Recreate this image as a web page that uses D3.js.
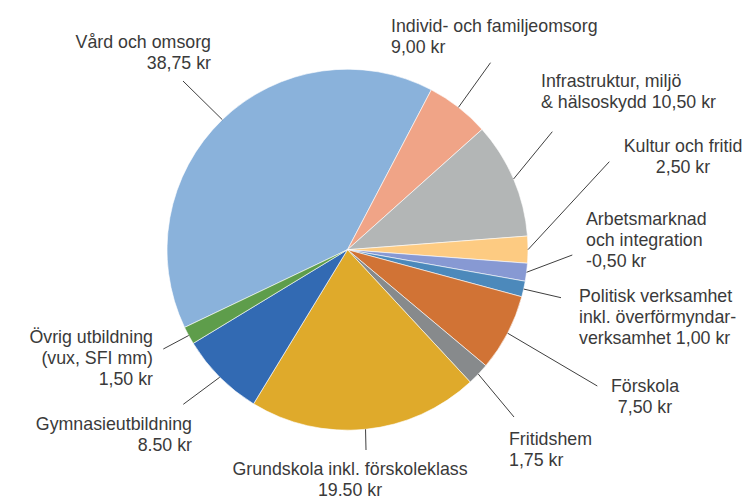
<!DOCTYPE html>
<html>
<head>
<meta charset="utf-8">
<script src="https://cdn.jsdelivr.net/npm/d3@7"></script>
<style>
  body { margin: 0; background: #fff; }
  svg text { font-family: "Liberation Sans", Arial, sans-serif; font-size: 17.8px; fill: #3a3a3a; }
</style>
</head>
<body>
<svg id="chart" width="747" height="498"></svg>
<script>
// slice sizes (share of 100 kr), label texts as printed
const categories = [
  "Vård och omsorg", "Individ- och familjeomsorg", "Infrastruktur", "Kultur och fritid",
  "Arbetsmarknad", "Politisk verksamhet", "Förskola", "Fritidshem",
  "Grundskola", "Gymnasieutbildning", "Övrig utbildning"
];
const sliceValues = [39.75, 5.7, 10.4, 2.4, 1.6, 1.4, 6.9, 2.0, 20.6, 7.6, 1.6];
const labelLines = [
  ["Vård och omsorg", "38,75 kr"],
  ["Individ- och familjeomsorg", "9,00 kr"],
  ["Infrastruktur, miljö", "& hälsoskydd 10,50 kr"],
  ["Kultur och fritid", "2,50 kr"],
  ["Arbetsmarknad", "och integration", "-0,50 kr"],
  ["Politisk verksamhet", "inkl. överförmyndar-", "verksamhet 1,00 kr"],
  ["Förskola", "7,50 kr"],
  ["Fritidshem", "1,75 kr"],
  ["Grundskola inkl. förskoleklass", "19.50 kr"],
  ["Gymnasieutbildning", "8.50 kr"],
  ["Övrig utbildning", "(vux, SFI mm)", "1,50 kr"]
];
const colors = [
  "#8ab2db", "#f0a487", "#b3b6b6", "#fdcb82", "#8799d3", "#4c89bb",
  "#d17335", "#878a8c", "#dfaa2b", "#326ab3", "#5e9d4b"
];

// layout: label anchor (x, first baseline, alignment) and outer end of leader line
const labelPos = [
  [211, 48, "end"], [391, 32, "start"], [541, 87, "start"], [683, 152, "middle"],
  [586, 225, "start"], [579, 302, "start"], [645, 392, "middle"], [509, 445, "start"],
  [350, 475, "middle"], [192, 430, "end"], [153, 343, "end"]
];
const leaderEnds = [
  [183, 81], [490.5, 62.7], [552.3, 131.7], [609.3, 161.7], [572.3, 255], [561, 297.7],
  [597.3, 386], [514, 417], [366, 450], [183.3, 404.3], [163.3, 349]
];

const cx = 347.5, cy = 249.7, radius = 180.5;
const lineHeight = 20.8;
const startDeg = -115.5;

const svg = d3.select("#chart");
const g = svg.append("g").attr("transform", "translate(" + cx + "," + cy + ")");

const pie = d3.pie()
  .sort(null)
  .value(d => d)
  .startAngle(startDeg * Math.PI / 180)
  .endAngle((startDeg + 360) * Math.PI / 180);
const arcs = pie(sliceValues);

const arc = d3.arc().innerRadius(0).outerRadius(radius);

g.selectAll("path.slice")
  .data(arcs)
  .enter()
  .append("path")
  .attr("class", "slice")
  .attr("d", arc)
  .attr("fill", (d, i) => colors[i])
  .attr("stroke", "#ffffff")
  .attr("stroke-width", 0.6);

// leader lines from the slice middle on the rim to the label
function rimPoint(d) {
  const a = (d.startAngle + d.endAngle) / 2;
  return [cx + Math.sin(a) * radius, cy - Math.cos(a) * radius];
}

svg.selectAll("line.leader")
  .data(arcs)
  .enter()
  .append("line")
  .attr("class", "leader")
  .attr("x1", d => rimPoint(d)[0])
  .attr("y1", d => rimPoint(d)[1])
  .attr("x2", (d, i) => leaderEnds[i][0])
  .attr("y2", (d, i) => leaderEnds[i][1])
  .attr("stroke", "#3f3f3f")
  .attr("stroke-width", 1);

// labels
const labels = svg.selectAll("text.lbl")
  .data(labelLines)
  .enter()
  .append("text")
  .attr("class", "lbl")
  .attr("text-anchor", (d, i) => labelPos[i][2]);

labels.each(function (lines, i) {
  const t = d3.select(this);
  lines.forEach((s, k) => {
    t.append("tspan")
      .attr("x", labelPos[i][0])
      .attr("y", labelPos[i][1] + k * lineHeight)
      .text(s);
  });
});
</script>
</body>
</html>
